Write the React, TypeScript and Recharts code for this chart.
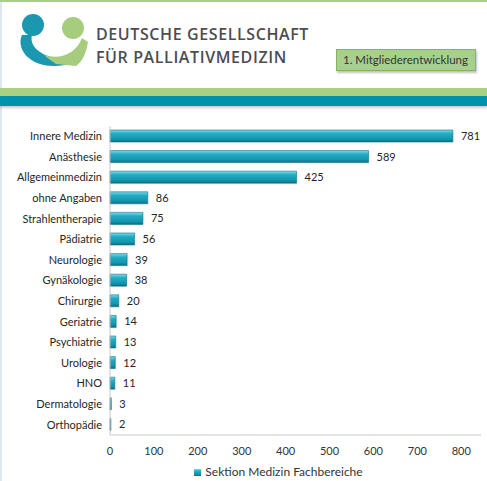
import React from 'react';
import { BarChart, Bar, XAxis, YAxis, Legend, LabelList } from 'recharts';

const categories = [
  'Innere Medizin', 'Anästhesie', 'Allgemeinmedizin', 'ohne Angaben', 'Strahlentherapie',
  'Pädiatrie', 'Neurologie', 'Gynäkologie', 'Chirurgie', 'Geriatrie',
  'Psychiatrie', 'Urologie', 'HNO', 'Dermatologie', 'Orthopädie',
];
const members = [781, 589, 425, 86, 75, 56, 39, 38, 20, 14, 13, 12, 11, 3, 2];
const xTicks = [0, 100, 200, 300, 400, 500, 600, 700, 800];
const seriesName = 'Sektion Medizin Fachbereiche';

const data = categories.map((name, i) => ({ name, value: members[i] }));

const font = 'Lato, "Open Sans", sans-serif';

function Header() {
  return (
    <div style={{ position: 'absolute', left: 0, top: 0, width: 487, height: 110 }}>
      <div style={{ position: 'absolute', left: 0, top: 0, width: 487, height: 2, background: '#a9cf80' }} />
      <svg width={90} height={75} style={{ position: 'absolute', left: 14, top: 8 }}>
        <circle cx={19} cy={17} r={11} fill="#1b98b0" />
        <circle cx={59} cy={20} r={11} fill="#a6cd7e" />
        <path d="M8 27 C2 40 14 58 40 58 C56 58 64 52 70 46 L69 38 C60 50 44 52 34 48 C20 43 16 34 18 27 Z" fill="#1b98b0" />
        <path d="M30 47 C46 52 62 46 68 30 L74 34 C72 46 68 54 62 58 L42 56 C38 53 33 50 30 47 Z" fill="#a6cd7e" />
      </svg>
      <div style={{ position: 'absolute', left: 96, top: 23, fontFamily: '"Open Sans", sans-serif', fontWeight: 600, fontSize: 16, letterSpacing: 0.6, color: '#4d4d4f', lineHeight: '23px' }}>
        <div>DEUTSCHE GESELLSCHAFT</div>
        <div>FÜR PALLIATIVMEDIZIN</div>
      </div>
      <div style={{ position: 'absolute', left: 336, top: 49, width: 132, height: 20, background: '#a8d08d', border: '1px solid #86b35e', boxShadow: '1px 2px 2px rgba(0,0,0,0.25)', fontFamily: font, fontSize: 11.5, color: '#333', lineHeight: '20px', paddingLeft: 6, boxSizing: 'content-box' }}>
        1. Mitgliederentwicklung
      </div>
      <div style={{ position: 'absolute', left: 0, top: 88, width: 487, height: 8, background: '#aad081' }} />
      <div style={{ position: 'absolute', left: 0, top: 96, width: 487, height: 10, background: '#0092ab', boxShadow: '0 2px 2px rgba(0,0,0,0.2)' }} />
    </div>
  );
}

export default function App() {
  return (
    <div style={{ position: 'absolute', left: 0, top: 0, width: 487, height: 481, background: '#fff', overflow: 'hidden' }}>
      <div style={{ position: 'absolute', left: 0, top: 0, width: 2, height: 481, background: '#dce7f2' }} />
      <Header />
      <BarChart
        width={487}
        height={481}
        data={data}
        layout="vertical"
        margin={{ top: 126, right: 6, left: 0, bottom: 0 }}
        barCategoryGap={4}
        style={{ position: 'absolute', left: 0, top: 0 }}
      >
        <defs>
          <linearGradient id="barFill" x1="0" y1="0" x2="0" y2="1">
            <stop offset="0%" stopColor="#7fdcec" />
            <stop offset="30%" stopColor="#22acc4" />
            <stop offset="75%" stopColor="#1396ae" />
            <stop offset="100%" stopColor="#0b6f82" />
          </linearGradient>
        </defs>
        <XAxis
          type="number"
          domain={[0, 845]}
          ticks={xTicks}
          tickLine={false}
          axisLine={{ stroke: '#c8c8c8' }}
          tickMargin={6}
          height={26}
          tick={{ fill: '#333', fontSize: 11, fontFamily: font }}
        />
        <YAxis
          type="category"
          dataKey="name"
          width={110}
          tickLine={false}
          axisLine={{ stroke: '#c8c8c8' }}
          interval={0}
          tick={{ fill: '#262626', fontSize: 11, fontFamily: font }}
        />
        <Legend
          verticalAlign="bottom"
          iconType="square"
          iconSize={7}
          height={20}
          wrapperStyle={{ fontFamily: font, fontSize: 12, color: '#333', left: 80, width: 407, bottom: -3 }}
          formatter={(v: string) => <span style={{ color: '#333' }}>{v}</span>}
        />
        <Bar dataKey="value" name={seriesName} fill="url(#barFill)" stroke="#0b7184" strokeWidth={0.6} barSize={12} legendType="square" isAnimationActive={false}>
          <LabelList dataKey="value" position="right" offset={8} style={{ fill: '#262626', fontSize: 11, fontFamily: font }} />
        </Bar>
      </BarChart>
    </div>
  );
}
